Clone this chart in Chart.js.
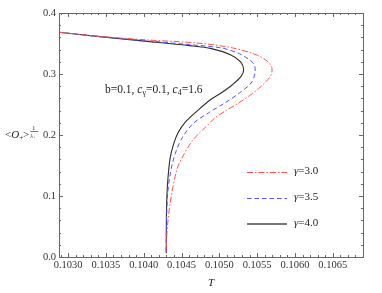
<!DOCTYPE html>
<html>
<head>
<meta charset="utf-8">
<script src="https://cdn.jsdelivr.net/npm/chart.js@4.4.1/dist/chart.umd.min.js"></script>
<style>
  html, body { margin:0; padding:0; background:#fff; }
  #wrap { width:382px; height:293px; }
</style>
</head>
<body>
<div id="wrap"><canvas id="chart"></canvas></div>
<script>
// series labels
const gammaLabels = ['\u03b3=3.0', '\u03b3=3.5', '\u03b3=4.0'];

// gamma = 3.0 (red, dot-dash)
const tRed = [0.102881, 0.103418, 0.104078, 0.104694, 0.105177, 0.105486, 0.105608, 0.105668, 0.105697, 0.105681,
              0.105608, 0.105516, 0.105397, 0.105239, 0.105081, 0.104936, 0.104826, 0.104724, 0.104632, 0.104540,
              0.104451, 0.104410, 0.104379, 0.104346, 0.104322, 0.104306, 0.104298];
const oRed = [0.3684, 0.3617, 0.3556, 0.3510, 0.3428, 0.3317, 0.3235, 0.3169, 0.3087, 0.2972,
              0.2865, 0.2758, 0.2643, 0.2512, 0.2396, 0.2273, 0.2138, 0.2018, 0.1887, 0.1701,
              0.1480, 0.1294, 0.1097, 0.0850, 0.0604, 0.0357, 0.0077];

// gamma = 3.5 (blue, dashed)
const tBlue = [0.102881, 0.103418, 0.104078, 0.104606, 0.105041, 0.105265, 0.105397, 0.105463, 0.105472, 0.105420,
               0.105265, 0.105067, 0.104856, 0.104658, 0.104520, 0.104434, 0.104381, 0.104342, 0.104319, 0.104306,
               0.104300, 0.104298];
const oBlue = [0.3684, 0.3613, 0.3539, 0.3482, 0.3424, 0.3334, 0.3235, 0.3153, 0.3016, 0.2852,
               0.2688, 0.2520, 0.2363, 0.2194, 0.1977, 0.1755, 0.1541, 0.1294, 0.1064, 0.0768,
               0.0439, 0.0061];

// gamma = 4.0 (black, solid)
const tBlack = [0.102881, 0.103418, 0.104078, 0.104606, 0.104896, 0.105147, 0.105279, 0.105322, 0.105285, 0.105173,
                0.105028, 0.104883, 0.104724, 0.104553, 0.104454, 0.104388, 0.104346, 0.104319, 0.104305, 0.104300,
                0.104298];
const oBlack = [0.3684, 0.3613, 0.3531, 0.3465, 0.3416, 0.3317, 0.3202, 0.3071, 0.2956, 0.2824,
                0.2692, 0.2577, 0.2413, 0.2215, 0.2035, 0.1822, 0.1592, 0.1263, 0.0933, 0.0604,
                0.0061];

// axis ticks
const xTicks = [0.1030, 0.1035, 0.1040, 0.1045, 0.1050, 0.1055, 0.1060, 0.1065];
const yTicks = [0.0, 0.1, 0.2, 0.3, 0.4];

const SERIF = '"Liberation Serif", "DejaVu Serif", serif';
const RED = 'rgb(255,80,80)';
const BLUE = 'rgb(80,80,255)';
const BLACK = 'rgb(45,45,45)';
const RED_DASH = [6, 2, 1.5, 2];
const BLUE_DASH = [4.5, 3];

function pts(t, o) {
  return t.map((v, i) => ({x: v, y: o[i]}));
}

// draws text pieces one after another: [text, font, dy]
function runText(ctx, x, y, parts) {
  parts.forEach(p => {
    ctx.font = p[1];
    ctx.fillText(p[0], x, y + (p[2] || 0));
    x += ctx.measureText(p[0]).width;
  });
  return x;
}

const framePlugin = {
  id: 'frame',
  afterDraw(chart) {
    const ctx = chart.ctx;
    const a = chart.chartArea;
    const xs = chart.scales.x, ys = chart.scales.y;
    ctx.save();
    ctx.strokeStyle = '#666';
    ctx.lineWidth = 1;
    ctx.strokeRect(a.left + 0.5, a.top + 0.5, a.right - a.left, a.bottom - a.top);

    // minor + major ticks, inward, on all four sides
    ctx.beginPath();
    for (let i = 0; i <= 45; i++) {
      const v = 0.1028 + i * 0.0001;
      const px = Math.round(xs.getPixelForValue(v)) + 0.5;
      if (px <= a.left || px >= a.right) continue;
      const len = (i % 5 === 2) ? 4 : 2;
      ctx.moveTo(px, a.bottom); ctx.lineTo(px, a.bottom - len);
      ctx.moveTo(px, a.top); ctx.lineTo(px, a.top + len);
    }
    for (let i = 0; i <= 20; i++) {
      const v = i * 0.02;
      const py = Math.round(ys.getPixelForValue(v)) + 0.5;
      const len = (i % 5 === 0) ? 4 : 2;
      ctx.moveTo(a.left, py); ctx.lineTo(a.left + len, py);
      ctx.moveTo(a.right, py); ctx.lineTo(a.right - len, py);
    }
    ctx.stroke();

    // legend
    const legY = [172.5, 198.5, 224];
    const cols = [RED, BLUE, 'rgb(120,120,120)'];
    const dashes = [RED_DASH, BLUE_DASH, []];
    const widths = [1, 1, 2];
    ctx.textBaseline = 'middle';
    ctx.fillStyle = '#222';
    gammaLabels.forEach((lab, i) => {
      ctx.beginPath();
      ctx.strokeStyle = cols[i];
      ctx.lineWidth = widths[i];
      ctx.setLineDash(dashes[i]);
      ctx.moveTo(247, legY[i]); ctx.lineTo(287, legY[i]);
      ctx.stroke();
      ctx.setLineDash([]);
      runText(ctx, 294, legY[i] - 1, [[lab.slice(0, 1), 'italic 11px ' + SERIF], [lab.slice(1), '11px ' + SERIF]]);
    });

    // parameter annotation
    ctx.textBaseline = 'alphabetic';
    const f = '11.5px ' + SERIF, fi = 'italic 11.5px ' + SERIF, fs = '8px ' + SERIF;
    runText(ctx, 105, 93, [
      ['b=0.1, ', f], ['c', fi], ['\u03b3', fs, 2], ['=0.1, ', f],
      ['c', fi], ['4', fs, 2], ['=1.6', f]
    ]);

    // axis titles
    ctx.textAlign = 'center';
    ctx.font = 'italic 11px ' + SERIF;
    ctx.fillText('T', (a.left + a.right) / 2, 286);
    ctx.textAlign = 'left';
    const g = '11px ' + SERIF, gi = 'italic 11px ' + SERIF;
    let x = runText(ctx, 5, 138, [['<', g], ['O', gi], ['+', '7px ' + SERIF, 2], ['>', g]]);
    ctx.font = '6px ' + SERIF;
    ctx.fillText('1', x + 3, 129.5);
    ctx.fillRect(x + 1, 131, 8, 0.6);
    runText(ctx, x + 1, 137.5, [['\u03bb', 'italic 6px ' + SERIF], ['+', '5px ' + SERIF, 1]]);
    ctx.restore();
  }
};

new Chart(document.getElementById('chart'), {
  type: 'scatter',
  data: {
    datasets: [
      { label: gammaLabels[0], data: pts(tRed, oRed), showLine: true, borderColor: RED, borderWidth: 1,
        borderDash: RED_DASH, pointRadius: 0, tension: 0.3, fill: false },
      { label: gammaLabels[1], data: pts(tBlue, oBlue), showLine: true, borderColor: BLUE, borderWidth: 1,
        borderDash: BLUE_DASH, pointRadius: 0, tension: 0.3, fill: false },
      { label: gammaLabels[2], data: pts(tBlack, oBlack), showLine: true, borderColor: BLACK, borderWidth: 1.1,
        pointRadius: 0, tension: 0.3, fill: false }
    ]
  },
  options: {
    responsive: true,
    maintainAspectRatio: false,
    animation: false,
    layout: { padding: { top: 13, right: 19, left: 0, bottom: 0 } },
    plugins: { legend: { display: false }, tooltip: { enabled: false } },
    scales: {
      x: {
        type: 'linear',
        min: 0.10288,
        max: 0.1069,
        grid: { display: false, drawTicks: false },
        border: { display: false },
        afterBuildTicks: s => { s.ticks = xTicks.map(v => ({value: v})); },
        afterFit: s => { s.height = 36; },
        ticks: {
          padding: 2,
          color: '#333',
          font: { family: SERIF, size: 10.5 },
          maxRotation: 0,
          callback: v => v.toFixed(4)
        }
      },
      y: {
        min: 0,
        max: 0.4,
        grid: { display: false, drawTicks: false },
        border: { display: false },
        afterBuildTicks: s => { s.ticks = yTicks.map(v => ({value: v})); },
        afterFit: s => { s.width = 59; },
        ticks: {
          padding: 3,
          color: '#333',
          font: { family: SERIF, size: 10.5 },
          callback: v => v.toFixed(1)
        }
      }
    }
  },
  plugins: [framePlugin]
});
</script>
</body>
</html>
